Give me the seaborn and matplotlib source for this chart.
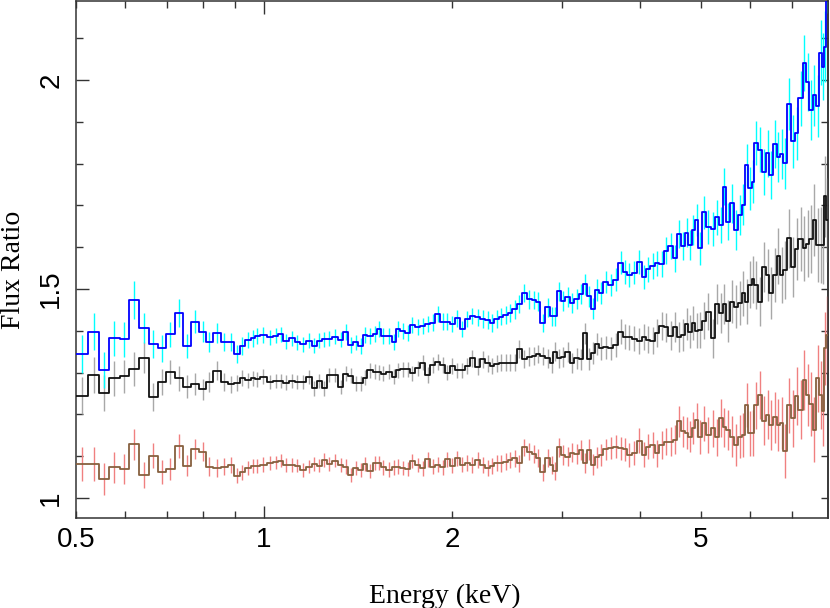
import numpy as np
import pandas as pd
import matplotlib
matplotlib.use('Agg')
import matplotlib.pyplot as plt
import matplotlib.ticker as mticker
import seaborn as sns

# ============================
# Data
# ============================
# energy bin edges (keV), 153 bins
energy_edges = [
    0.500, 0.523, 0.544, 0.565, 0.587, 0.609, 0.631, 0.654, 0.676, 0.697,
    0.720, 0.741, 0.764, 0.788, 0.807, 0.829, 0.853, 0.875, 0.894, 0.915,
    0.932, 0.952, 0.967, 0.985, 1.010, 1.035, 1.054, 1.074, 1.098, 1.121,
    1.142, 1.167, 1.192, 1.217, 1.237, 1.260, 1.283, 1.315, 1.340, 1.364,
    1.390, 1.416, 1.442, 1.460, 1.493, 1.515, 1.538, 1.568, 1.601, 1.625,
    1.651, 1.682, 1.713, 1.745, 1.778, 1.811, 1.844, 1.879, 1.914, 1.949,
    1.985, 2.022, 2.060, 2.098, 2.137, 2.177, 2.218, 2.259, 2.301, 2.338,
    2.379, 2.417, 2.456, 2.498, 2.542, 2.586, 2.634, 2.683, 2.723, 2.767,
    2.818, 2.871, 2.906, 2.943, 2.986, 3.034, 3.091, 3.140, 3.198, 3.239,
    3.287, 3.336, 3.389, 3.443, 3.495, 3.560, 3.618, 3.693, 3.754, 3.810,
    3.880, 3.953, 4.026, 4.091, 4.151, 4.229, 4.296, 4.371, 4.441, 4.514,
    4.581, 4.649, 4.723, 4.781, 4.841, 4.901, 4.960, 5.022, 5.103, 5.192,
    5.275, 5.359, 5.427, 5.493, 5.575, 5.664, 5.748, 5.820, 5.892, 5.964,
    6.039, 6.090, 6.188, 6.266, 6.366, 6.444, 6.525, 6.622, 6.703, 6.785,
    6.886, 6.981, 7.084, 7.171, 7.288, 7.378, 7.468, 7.562, 7.655, 7.748,
    7.817, 7.884, 7.942, 8.001,
]

# upper series (blue line, cyan errors)
blue_ratio = [
    1.344, 1.398, 1.306, 1.382, 1.380, 1.474, 1.407, 1.368, 1.358, 1.392,
    1.443, 1.364, 1.422, 1.398, 1.373, 1.395, 1.373, 1.373,
    1.344, 1.364, 1.378, 1.382, 1.388, 1.389, 1.384, 1.388, 1.392, 1.375,
    1.382, 1.372, 1.368, 1.376, 1.364, 1.376, 1.380, 1.381, 1.386, 1.378,
    1.398, 1.366, 1.372, 1.364, 1.390, 1.388, 1.392, 1.404, 1.388, 1.388,
    1.374, 1.405, 1.400, 1.395, 1.414, 1.408, 1.411, 1.416, 1.419, 1.440,
    1.422, 1.422, 1.416, 1.430, 1.404, 1.428, 1.435, 1.432, 1.428, 1.426,
    1.419, 1.428, 1.434, 1.438, 1.442, 1.451, 1.464, 1.491, 1.475, 1.474,
    1.470,
    1.419, 1.456, 1.435, 1.435, 1.494, 1.471, 1.480, 1.467, 1.475, 1.488,
    1.511, 1.483, 1.453, 1.498, 1.491, 1.517, 1.510, 1.522, 1.563, 1.541,
    1.533, 1.539, 1.565, 1.528, 1.547, 1.555, 1.561, 1.559, 1.592, 1.603,
    1.573, 1.632, 1.603, 1.635,
    1.605, 1.641, 1.665, 1.597, 1.683, 1.648, 1.643, 1.671, 1.653, 1.745,
    1.661, 1.705, 1.641, 1.677, 1.701, 1.797, 1.741, 1.757, 1.849, 1.833,
    1.781, 1.825, 1.773, 1.847, 1.816, 1.823, 1.801, 1.943, 1.853, 1.872,
    1.956, 2.040, 1.996, 1.928, 1.964, 1.938, 2.065, 2.032, 2.080, 2.250,
]
blue_err = [
    0.046, 0.045, 0.044, 0.042, 0.042, 0.045, 0.036, 0.034, 0.032, 0.030,
    0.034, 0.028, 0.028, 0.026, 0.025, 0.024, 0.022, 0.022,
    0.022, 0.021, 0.020, 0.020, 0.019, 0.019, 0.019, 0.018, 0.018, 0.018,
    0.018, 0.018, 0.018, 0.018, 0.018, 0.018, 0.018, 0.018, 0.018, 0.018,
    0.019, 0.019, 0.019, 0.019, 0.019, 0.019, 0.019, 0.019, 0.019, 0.019,
    0.019, 0.019, 0.019, 0.019, 0.019, 0.019, 0.019, 0.020, 0.020, 0.020,
    0.020, 0.020, 0.020, 0.020, 0.020, 0.020, 0.020, 0.021, 0.021, 0.021,
    0.021, 0.021, 0.021, 0.021, 0.022, 0.022, 0.022, 0.022, 0.022, 0.022,
    0.022,
    0.022, 0.022, 0.023, 0.023, 0.023, 0.023, 0.024, 0.024, 0.024, 0.024,
    0.025, 0.025, 0.025, 0.026, 0.026, 0.026, 0.027, 0.027, 0.027, 0.028,
    0.028, 0.028, 0.029, 0.029, 0.030, 0.030, 0.031, 0.031, 0.032, 0.032,
    0.033, 0.034, 0.034, 0.035,
    0.036, 0.037, 0.038, 0.039, 0.040, 0.040, 0.041, 0.042, 0.043, 0.044,
    0.045, 0.046, 0.047, 0.048, 0.049, 0.050, 0.051, 0.052, 0.053, 0.054,
    0.055, 0.056, 0.057, 0.058, 0.059, 0.060, 0.061, 0.062, 0.063, 0.064,
    0.065, 0.067, 0.069, 0.071, 0.073, 0.075, 0.078, 0.081, 0.085, 0.090,
]

# middle series (black line, grey errors)
black_ratio = [
    1.245, 1.294, 1.250, 1.286, 1.291, 1.308, 1.336, 1.242, 1.278, 1.301,
    1.286, 1.266, 1.273, 1.260, 1.278, 1.304, 1.278, 1.272,
    1.276, 1.286, 1.282, 1.286, 1.284, 1.290, 1.278, 1.280, 1.280, 1.276,
    1.280, 1.277, 1.278, 1.290, 1.262, 1.280, 1.262, 1.294, 1.294, 1.265,
    1.297, 1.292, 1.274, 1.274, 1.288, 1.305, 1.302, 1.301, 1.297, 1.302,
    1.290, 1.306, 1.308, 1.308, 1.298, 1.310, 1.324, 1.294, 1.318, 1.326,
    1.318, 1.300, 1.316, 1.305, 1.305, 1.316, 1.334, 1.314, 1.332, 1.322,
    1.316, 1.321, 1.324, 1.324, 1.324, 1.324, 1.356, 1.332, 1.338, 1.340,
    1.344,
    1.340, 1.334, 1.322, 1.350, 1.334, 1.338, 1.350, 1.322, 1.334, 1.332,
    1.394, 1.332, 1.346, 1.368, 1.358, 1.360, 1.358, 1.366, 1.398, 1.386,
    1.384, 1.381, 1.376, 1.384, 1.379, 1.376, 1.394, 1.411, 1.408, 1.388,
    1.410, 1.385, 1.390, 1.416,
    1.398, 1.419, 1.400, 1.402, 1.424, 1.446, 1.382, 1.464, 1.442, 1.464,
    1.424, 1.470, 1.458, 1.466, 1.490, 1.470, 1.510, 1.523, 1.510, 1.470,
    1.552, 1.533, 1.490, 1.533, 1.579, 1.533, 1.545, 1.621, 1.553, 1.596,
    1.619, 1.597, 1.608, 1.620, 1.665, 1.605, 1.605, 1.605, 1.722, 1.665,
]
black_err = [
    0.045, 0.044, 0.043, 0.041, 0.040, 0.040, 0.036, 0.034, 0.031, 0.029,
    0.030, 0.027, 0.026, 0.025, 0.024, 0.023, 0.021, 0.020,
    0.019, 0.019, 0.018, 0.018, 0.018, 0.018, 0.017, 0.017, 0.017, 0.017,
    0.017, 0.017, 0.017, 0.017, 0.017, 0.017, 0.017, 0.017, 0.017, 0.017,
    0.018, 0.018, 0.018, 0.018, 0.018, 0.018, 0.018, 0.018, 0.018, 0.018,
    0.018, 0.018, 0.018, 0.018, 0.018, 0.018, 0.019, 0.019, 0.019, 0.019,
    0.019, 0.019, 0.019, 0.019, 0.019, 0.020, 0.020, 0.020, 0.020, 0.020,
    0.020, 0.020, 0.021, 0.021, 0.021, 0.021, 0.021, 0.022, 0.022, 0.022,
    0.022,
    0.022, 0.022, 0.023, 0.023, 0.023, 0.024, 0.024, 0.024, 0.025, 0.025,
    0.025, 0.026, 0.026, 0.026, 0.027, 0.027, 0.028, 0.028, 0.029, 0.029,
    0.030, 0.030, 0.031, 0.031, 0.032, 0.032, 0.033, 0.034, 0.034, 0.035,
    0.036, 0.037, 0.038, 0.039,
    0.040, 0.041, 0.042, 0.043, 0.044, 0.045, 0.046, 0.047, 0.048, 0.049,
    0.050, 0.051, 0.052, 0.053, 0.054, 0.055, 0.056, 0.057, 0.058, 0.059,
    0.060, 0.062, 0.063, 0.064, 0.066, 0.067, 0.069, 0.070, 0.072, 0.074,
    0.076, 0.078, 0.080, 0.082, 0.085, 0.088, 0.091, 0.094, 0.097, 0.100,
]

# lower series (brown line, salmon errors)
brown_ratio = [
    1.081, 1.081, 1.045, 1.073, 1.069, 1.128, 1.055, 1.101, 1.062, 1.069,
    1.124, 1.077, 1.118, 1.111, 1.075, 1.071, 1.075, 1.079,
    1.053, 1.062, 1.071, 1.077, 1.077, 1.080, 1.084, 1.085, 1.089, 1.079,
    1.079, 1.077, 1.067, 1.075, 1.081, 1.077, 1.091, 1.081, 1.089, 1.079,
    1.075, 1.055, 1.071, 1.067, 1.081, 1.065, 1.083, 1.084, 1.073, 1.068,
    1.073, 1.075, 1.071, 1.069, 1.089, 1.079, 1.071, 1.093, 1.075, 1.079,
    1.073, 1.093, 1.077, 1.095, 1.079, 1.084, 1.079, 1.091, 1.079, 1.071,
    1.077, 1.083, 1.083, 1.087, 1.091, 1.095, 1.083, 1.121, 1.111, 1.105,
    1.095,
    1.061, 1.095, 1.079, 1.065, 1.121, 1.103, 1.099, 1.108, 1.105, 1.115,
    1.083, 1.115, 1.079, 1.097, 1.103, 1.116, 1.119, 1.123, 1.119, 1.116,
    1.103, 1.107, 1.137, 1.103, 1.123, 1.127, 1.107, 1.127, 1.135, 1.135,
    1.139, 1.183, 1.159, 1.155,
    1.147, 1.167, 1.187, 1.145, 1.179, 1.151, 1.167, 1.145, 1.191, 1.169,
    1.163, 1.147, 1.127, 1.147, 1.151, 1.222, 1.155, 1.155, 1.222, 1.246,
    1.185, 1.199, 1.175, 1.193, 1.175, 1.179, 1.113, 1.222, 1.191, 1.244,
    1.211, 1.282, 1.246, 1.225, 1.163, 1.286, 1.246, 1.209, 1.358, 1.390,
]
brown_err = [
    0.040, 0.040, 0.039, 0.037, 0.036, 0.038, 0.032, 0.030, 0.028, 0.027,
    0.028, 0.025, 0.024, 0.023, 0.022, 0.021, 0.020, 0.019,
    0.018, 0.018, 0.017, 0.017, 0.017, 0.017, 0.016, 0.016, 0.016, 0.016,
    0.016, 0.016, 0.016, 0.016, 0.016, 0.016, 0.016, 0.016, 0.016, 0.016,
    0.017, 0.017, 0.017, 0.017, 0.017, 0.017, 0.017, 0.017, 0.017, 0.017,
    0.017, 0.017, 0.017, 0.017, 0.017, 0.017, 0.018, 0.018, 0.018, 0.018,
    0.018, 0.018, 0.018, 0.018, 0.018, 0.019, 0.019, 0.019, 0.019, 0.019,
    0.019, 0.019, 0.020, 0.020, 0.020, 0.020, 0.020, 0.021, 0.021, 0.021,
    0.021,
    0.021, 0.021, 0.022, 0.022, 0.022, 0.023, 0.023, 0.023, 0.024, 0.024,
    0.024, 0.025, 0.025, 0.025, 0.026, 0.026, 0.027, 0.027, 0.028, 0.028,
    0.029, 0.029, 0.030, 0.030, 0.031, 0.031, 0.032, 0.033, 0.033, 0.034,
    0.035, 0.036, 0.037, 0.038,
    0.038, 0.039, 0.040, 0.041, 0.042, 0.043, 0.044, 0.045, 0.046, 0.047,
    0.048, 0.049, 0.050, 0.051, 0.052, 0.053, 0.054, 0.055, 0.056, 0.057,
    0.058, 0.059, 0.060, 0.061, 0.062, 0.063, 0.065, 0.066, 0.068, 0.069,
    0.071, 0.072, 0.074, 0.076, 0.078, 0.080, 0.082, 0.085, 0.088, 0.092,
]

# axis ticks / labels
x_tick_values = [0.5, 1, 2, 5]
x_tick_labels = ['0.5', '1', '2', '5']
y_tick_values = [1.0, 1.5, 2.0]
y_tick_labels = ['1', '1.5', '2']

# ============================
# Style
# ============================
sns.set_style('ticks')
plt.rcParams['font.family'] = ['Liberation Sans', 'DejaVu Sans']
plt.rcParams['text.color'] = 'black'
plt.rcParams['axes.labelcolor'] = 'black'
SERIF = ['Liberation Serif', 'DejaVu Serif']
SPINE = '#333333'


def draw_series(ax, values, errors, line_color, err_color):
    """Step line over the energy bins with vertical error bars at bin centres."""
    edges = np.array(energy_edges)
    centers = np.sqrt(edges[:-1] * edges[1:])
    vals = np.array(values)
    errs = np.array(errors)
    ax.vlines(centers, vals - errs, vals + errs, colors=err_color, lw=1.0, zorder=2)
    df = pd.DataFrame({'energy': edges, 'ratio': np.append(vals, vals[-1])})
    sns.lineplot(data=df, x='energy', y='ratio', drawstyle='steps-post',
                 color=line_color, lw=1.3, ax=ax, zorder=3,
                 errorbar=None, sort=False)


fig = plt.figure(figsize=(8.3, 6.08), dpi=100)
ax = fig.add_axes([76 / 830, 90 / 608, 752 / 830, 517 / 608])

draw_series(ax, brown_ratio, brown_err, '#87603f', '#f08080')
draw_series(ax, black_ratio, black_err, '#111111', '#a8a8a8')
draw_series(ax, blue_ratio, blue_err, '#0000ff', '#00ffff')

ax.set_xscale('log')
ax.set_xlim(0.5, 8.0)
ax.set_ylim(0.952, 2.189)

# x ticks: long major at 1, short minor ticks, labels at 0.5, 1, 2, 5
x_label_map = dict(zip(x_tick_values, x_tick_labels))
ax.xaxis.set_major_locator(mticker.FixedLocator([1]))
ax.xaxis.set_minor_locator(mticker.FixedLocator([0.5, 0.6, 0.7, 0.8, 0.9, 2, 3, 4, 5, 6, 7]))
ax.xaxis.set_major_formatter(mticker.FuncFormatter(lambda v, p: x_label_map.get(v, '')))
ax.xaxis.set_minor_formatter(mticker.FuncFormatter(lambda v, p: x_label_map.get(round(v, 3), '')))

# y ticks
y_label_map = dict(zip(y_tick_values, y_tick_labels))
ax.yaxis.set_major_locator(mticker.FixedLocator(y_tick_values))
ax.yaxis.set_minor_locator(mticker.MultipleLocator(0.1))
ax.yaxis.set_major_formatter(mticker.FuncFormatter(lambda v, p: y_label_map.get(round(v, 2), '')))

ax.tick_params(which='both', direction='in', top=True, right=False,
               labelsize=20, width=1.0, color=SPINE, labelcolor='black')
ax.tick_params(which='major', length=9)
ax.tick_params(which='minor', length=4.7)
ax.tick_params(axis='x', which='both', pad=6.5)
ax.tick_params(axis='y', which='both', pad=8.5, labelrotation=90)
for lab in ax.get_yticklabels():
    lab.set_va('center')

# right side: short ticks only
sec = ax.secondary_yaxis('right')
sec.yaxis.set_major_locator(mticker.MultipleLocator(0.1))
sec.tick_params(direction='in', length=4.7, width=1.0, color=SPINE, labelright=False)
sec.spines['right'].set_linewidth(1.1)
sec.spines['right'].set_color(SPINE)

for s in ax.spines.values():
    s.set_linewidth(1.1)
    s.set_color(SPINE)

ax.set_xlabel('Energy (keV)', fontsize=20, family=SERIF, color='black')
ax.set_ylabel('Flux Ratio', fontsize=20, family=SERIF, color='black')
ax.xaxis.set_label_coords(0.49, -0.128)
ax.yaxis.set_label_coords(-0.066, 0.48)

fig.savefig('out.png', dpi=100)
